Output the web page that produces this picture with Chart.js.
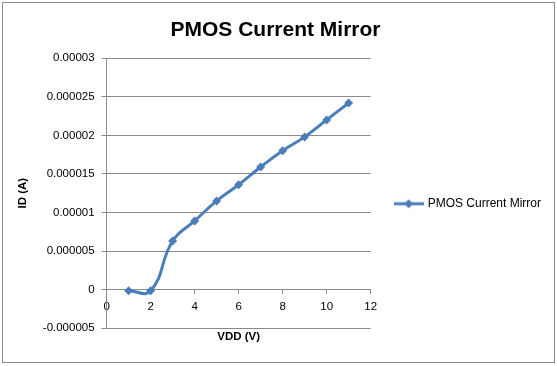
<!DOCTYPE html>
<html>
<head>
<meta charset="utf-8">
<script src="https://cdn.jsdelivr.net/npm/chart.js@4"></script>
<style>
  html, body { margin: 0; padding: 0; background: #fff; }
  canvas { display: block; }
</style>
</head>
<body>
<canvas id="myChart" width="557" height="366"></canvas>
<script>
var vdd = [1, 2, 3, 4, 5, 6, 7, 8, 9, 10, 11];
var idCurrent = [-0.00000015, -0.00000015, 0.0000063, 0.0000089, 0.0000115, 0.0000136, 0.0000159, 0.000018, 0.0000198, 0.000022, 0.0000242];
var seriesName = "PMOS Current Mirror";

var lineColor = "#4a7ebb";
var gridColor = "#8a8a8a";
var fontFamily = "'Liberation Sans', Arial, sans-serif";

// legend icon: short line with a diamond in the middle
var legendIcon = document.createElement('canvas');
legendIcon.width = 30;
legendIcon.height = 12;
(function() {
    var c = legendIcon.getContext('2d');
    c.strokeStyle = lineColor;
    c.lineWidth = 3;
    c.beginPath();
    c.moveTo(0, 6);
    c.lineTo(30, 6);
    c.stroke();
    c.fillStyle = lineColor;
    c.beginPath();
    c.moveTo(15, 1.5);
    c.lineTo(19.5, 6);
    c.lineTo(15, 10.5);
    c.lineTo(10.5, 6);
    c.closePath();
    c.fill();
})();

var chartBorder = {
    id: 'chartBorder',
    beforeDraw: function(chart) {
        var c = chart.ctx;
        c.save();
        c.fillStyle = '#fff';
        c.fillRect(0, 0, chart.width, chart.height);
        c.strokeStyle = '#8c8c8c';
        c.lineWidth = 1;
        c.strokeRect(2.5, 2.5, 552, 360);
        c.restore();
    }
};

var points = vdd.map(function(v, i) { return {x: v, y: idCurrent[i]}; });

var ctx = document.getElementById('myChart');
var myChart = new Chart(ctx, {
    type: 'scatter',
    data: {
        datasets: [{
            label: seriesName,
            data: points,
            showLine: true,
            borderColor: lineColor,
            backgroundColor: lineColor,
            borderWidth: 3,
            tension: 0.45,
            pointStyle: 'rectRot',
            pointRadius: 4.5,
            pointHoverRadius: 4.5,
            pointBorderWidth: 0,
            xAxisID: 'x',
            yAxisID: 'y'
        }]
    },
    options: {
        responsive: false,
        animation: false,
        layout: {
            padding: {left: 0, right: 6, top: 0, bottom: 22}
        },
        plugins: {
            title: {
                display: true,
                text: 'PMOS Current Mirror',
                color: '#000',
                font: {family: fontFamily, size: 21, weight: 'bold'},
                padding: {top: 18, bottom: 15}
            },
            legend: {
                display: true,
                position: 'right',
                fullSize: false,
                maxWidth: 200,
                title: {
                    display: true,
                    text: ' ',
                    font: {size: 10},
                    padding: 4.5
                },
                labels: {
                    color: '#000',
                    font: {family: fontFamily, size: 12},
                    usePointStyle: true,
                    pointStyleWidth: 26,
                    padding: 25,
                    generateLabels: function(chart) {
                        var items = Chart.defaults.plugins.legend.labels.generateLabels(chart);
                        items.forEach(function(it) { it.pointStyle = legendIcon; });
                        return items;
                    }
                }
            },
            tooltip: {enabled: false}
        },
        scales: {
            x: {
                type: 'linear',
                position: {y: 0},
                min: 0,
                max: 12,
                ticks: {
                    stepSize: 2,
                    color: '#000',
                    font: {family: fontFamily, size: 11.5},
                    padding: 6
                },
                grid: {
                    drawOnChartArea: false,
                    drawTicks: true,
                    tickLength: 4,
                    color: gridColor
                },
                border: {display: true, color: gridColor, width: 1}
            },
            xTitle: {
                type: 'linear',
                position: 'bottom',
                min: 0,
                max: 12,
                ticks: {display: false},
                grid: {display: false, drawTicks: false},
                border: {display: false},
                title: {
                    display: true,
                    text: 'VDD (V)',
                    color: '#000',
                    font: {family: fontFamily, size: 11.5, weight: 'bold'},
                    padding: {top: 2, bottom: 0}
                }
            },
            y: {
                type: 'linear',
                min: -0.000005,
                max: 0.00003,
                ticks: {
                    stepSize: 0.000005,
                    color: '#000',
                    font: {family: fontFamily, size: 11.5},
                    padding: 7,
                    callback: function(value) {
                        return parseFloat(value.toFixed(7)).toString();
                    }
                },
                grid: {
                    color: gridColor,
                    tickLength: 5
                },
                border: {display: true, color: gridColor, width: 1},
                title: {
                    display: true,
                    text: 'ID (A)',
                    color: '#000',
                    font: {family: fontFamily, size: 11.5, weight: 'bold'},
                    padding: {top: 16, bottom: 6}
                }
            }
        }
    },
    plugins: [chartBorder]
});
</script>
</body>
</html>
